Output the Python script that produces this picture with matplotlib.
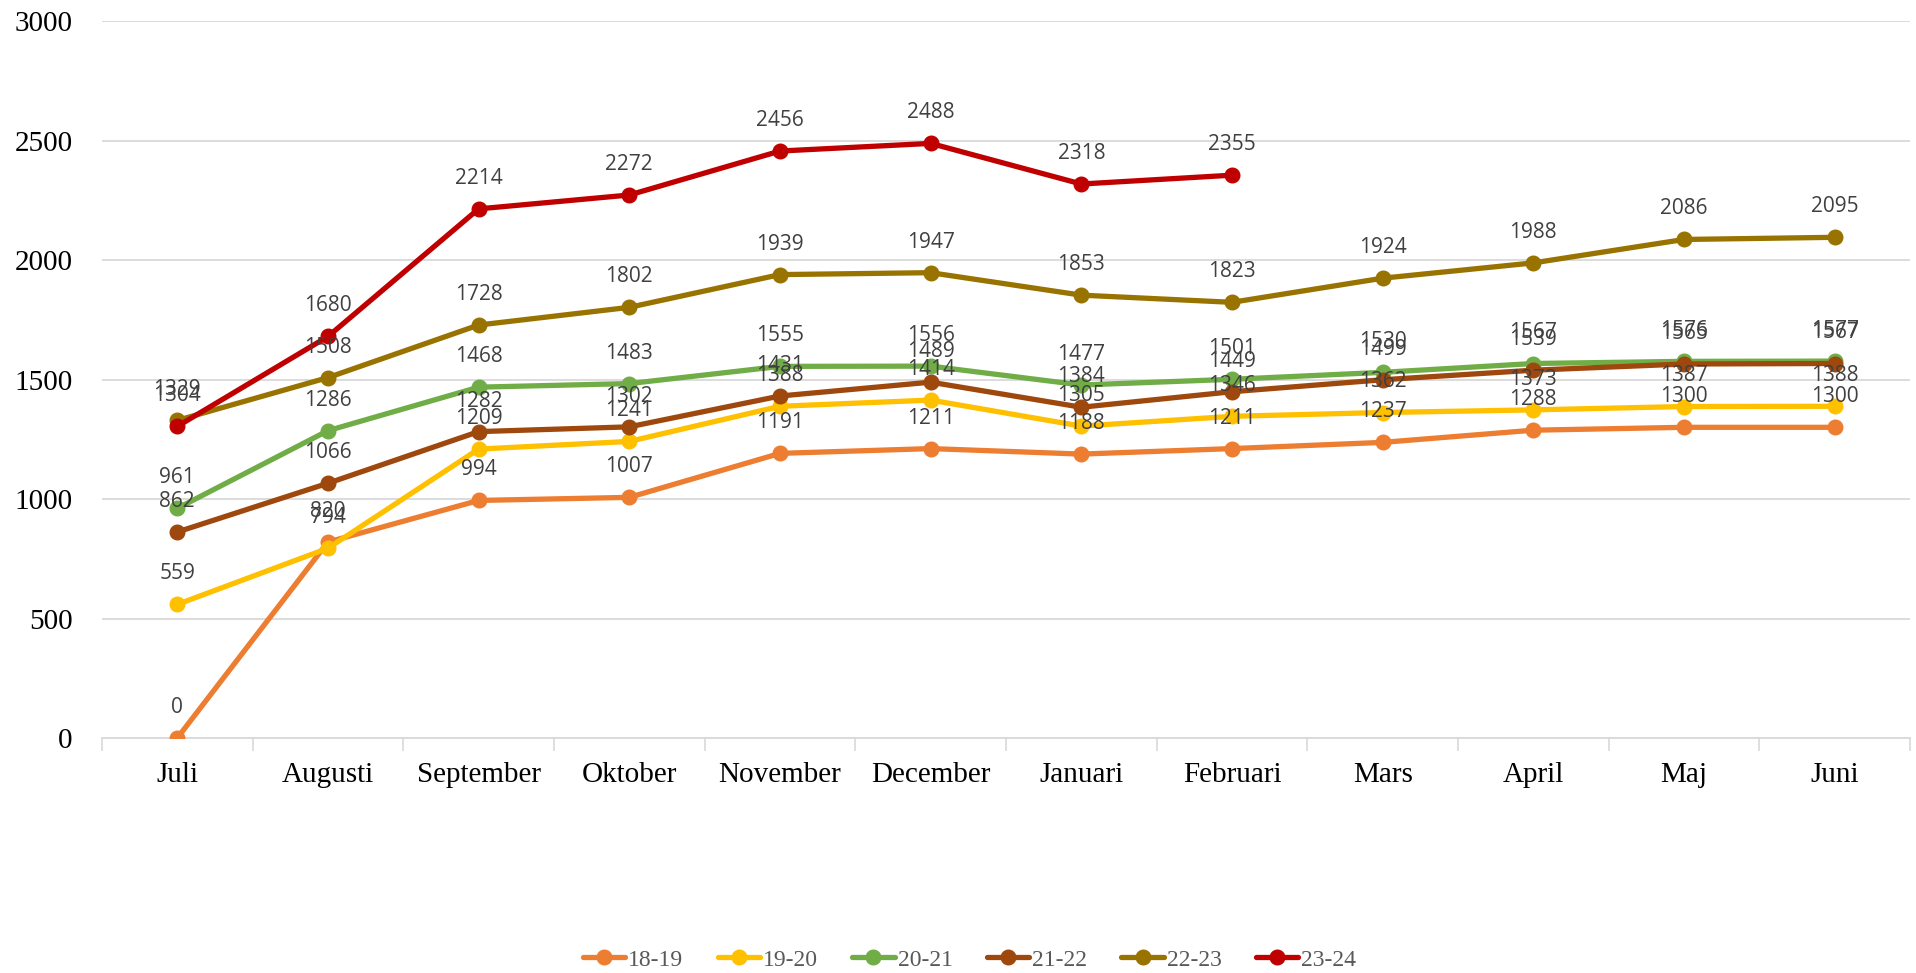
import matplotlib
matplotlib.use("Agg")
import matplotlib.pyplot as plt
import numpy as np

months = ["Juli", "Augusti", "September", "Oktober", "November", "December",
          "Januari", "Februari", "Mars", "April", "Maj", "Juni"]
s_18_19 = [0, 820, 994, 1007, 1191, 1211, 1188, 1211, 1237, 1288, 1300, 1300]
s_19_20 = [559, 794, 1209, 1241, 1388, 1414, 1305, 1346, 1362, 1373, 1387, 1388]
s_20_21 = [961, 1286, 1468, 1483, 1555, 1556, 1477, 1501, 1530, 1567, 1576, 1577]
s_21_22 = [862, 1066, 1282, 1302, 1431, 1489, 1384, 1449, 1499, 1539, 1565, 1567]
s_22_23 = [1329, 1508, 1728, 1802, 1939, 1947, 1853, 1823, 1924, 1988, 2086, 2095]
s_23_24 = [1304, 1680, 2214, 2272, 2456, 2488, 2318, 2355]
series_names = ["18-19", "19-20", "20-21", "21-22", "22-23", "23-24"]
colors = ["#ED7D31", "#FFC000", "#70AD47", "#9E480E", "#997300", "#C00000"]
series = [s_18_19, s_19_20, s_20_21, s_21_22, s_22_23, s_23_24]

fig = plt.figure(figsize=(19.16, 9.73), dpi=100)
ax = fig.add_axes([0.0532, 0.2415, 0.9437, 0.7369])

x_all = np.arange(len(months))
for name, vals, c in zip(series_names, series, colors):
    xs = x_all[:len(vals)]
    ax.plot(xs, vals, color=c, lw=3.8, marker="o", markersize=10.5, label=name,
            solid_capstyle="round", zorder=3)

for name, vals, c in zip(series_names, series, colors):
    xs = x_all[:len(vals)]
    for xi, v in zip(xs, vals):
        ax.annotate(str(v), (xi, v), xytext=(0, 22), textcoords="offset points",
                    ha="center", va="center", fontsize=15, color="#404040",
                    family="Open Sans", zorder=5)

ax.set_xlim(-0.5, len(months) - 0.5)
ax.set_ylim(0, 3000)
ax.set_yticks(np.arange(0, 3001, 500))
ax.set_xticks(x_all)
ax.set_xticklabels(months)
ax.set_xticks(np.arange(-0.5, len(months), 1.0), minor=True)
ax.tick_params(axis="x", which="major", length=0, pad=17, labelsize=21, labelcolor="#000000")
ax.tick_params(axis="x", which="minor", length=9, width=1.2, color="#d9d9d9", direction="out")
ax.tick_params(axis="y", length=0, pad=21, labelsize=21, labelcolor="#000000")
for lab in ax.get_xticklabels() + ax.get_yticklabels():
    lab.set_family("Liberation Serif")

ax.grid(axis="y", color="#d9d9d9", lw=1.3, zorder=0)
ax.set_axisbelow(True)
for sp in ["top", "right", "left"]:
    ax.spines[sp].set_visible(False)
ax.spines["bottom"].set_color("#d9d9d9")
ax.spines["bottom"].set_linewidth(1.3)

handles, labels = ax.get_legend_handles_labels()
fig.legend(handles, labels, loc="center", bbox_to_anchor=(0.506, 0.0134), ncol=6,
           frameon=False, handlelength=1.8, handletextpad=0.12, columnspacing=1.45,
           prop={"family": "Liberation Serif", "size": 17}, labelcolor="#595959")

fig.savefig("out.png", dpi=100)
